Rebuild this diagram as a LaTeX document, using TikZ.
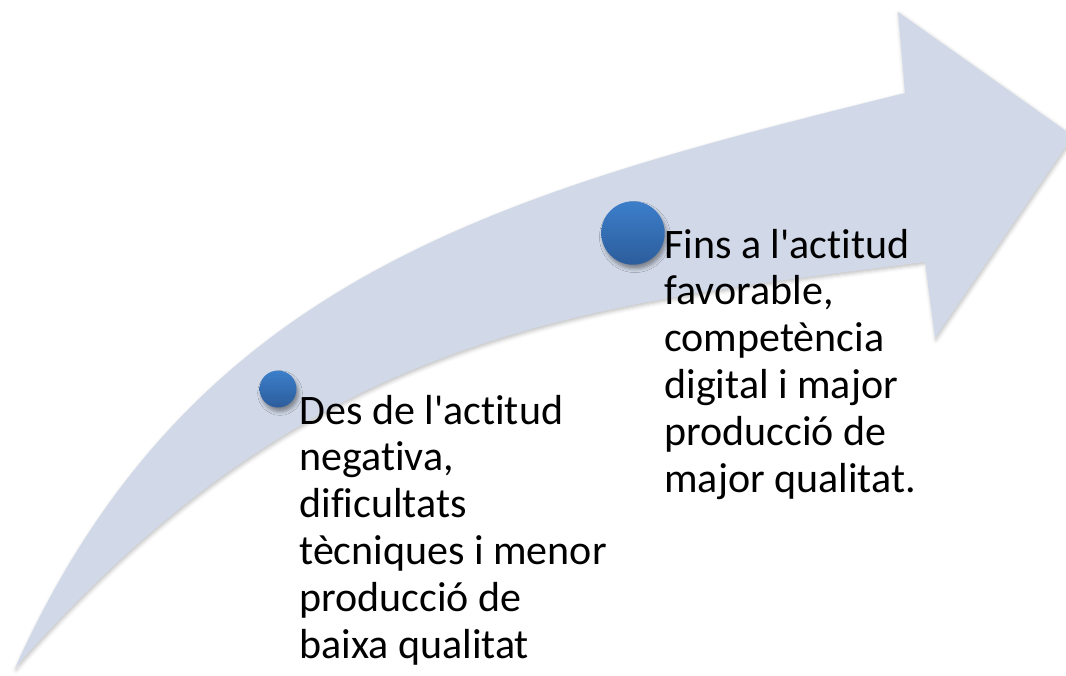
\documentclass[tikz,border=0pt]{standalone}
\usepackage{fontspec}
\setmainfont[Ligatures=NoCommon]{Carlito}
\usetikzlibrary{shadows.blur}
\definecolor{bandgrey}{RGB}{209,217,232}
\definecolor{dottop}{RGB}{60,126,202}
\definecolor{dotbottom}{RGB}{44,93,156}

\begin{document}
\begin{tikzpicture}[x=0.5pt, y=-0.5pt,
    stagedot/.style={circle, draw=none, inner sep=0pt, top color=dottop, bottom color=dotbottom,
        blur shadow={shadow xshift=1pt, shadow yshift=-2pt, shadow opacity=40}},
    stage/.style={font=\fontsize{21pt}{23.4pt}\selectfont, align=left, inner sep=0pt, anchor=base west}
]
\useasboundingbox (0,0) rectangle (1066,675);
\clip (0,0) rectangle (1066,675);

% Curved band with its head
\fill[bandgrey, blur shadow={shadow xshift=0.5pt, shadow yshift=-1pt, shadow opacity=25}]
    (15,668) .. controls (191,277) and (497,194) .. (905,93)
    -- (898,12) -- (1073,136) -- (935,338) -- (925,262)
    .. controls (578,306) and (312,330) .. cycle;

% Stages (anchor is the baseline of the last line)
\node[stagedot, minimum size=18.5pt] (dotfrom) at (278,389) {};
\node[stagedot, minimum size=31.7pt] (dotto) at (633,233) {};

\node[stage] (from) at (299,658) {Des de l\textquotesingle actitud\\negativa,\\dificultats\\tècniques i menor\\producció de\\baixa qualitat};
\node[stage] (to) at (664,492) {Fins a l\textquotesingle actitud\\favorable,\\competència\\digital i major\\producció de\\major qualitat.};

\end{tikzpicture}
\end{document}
